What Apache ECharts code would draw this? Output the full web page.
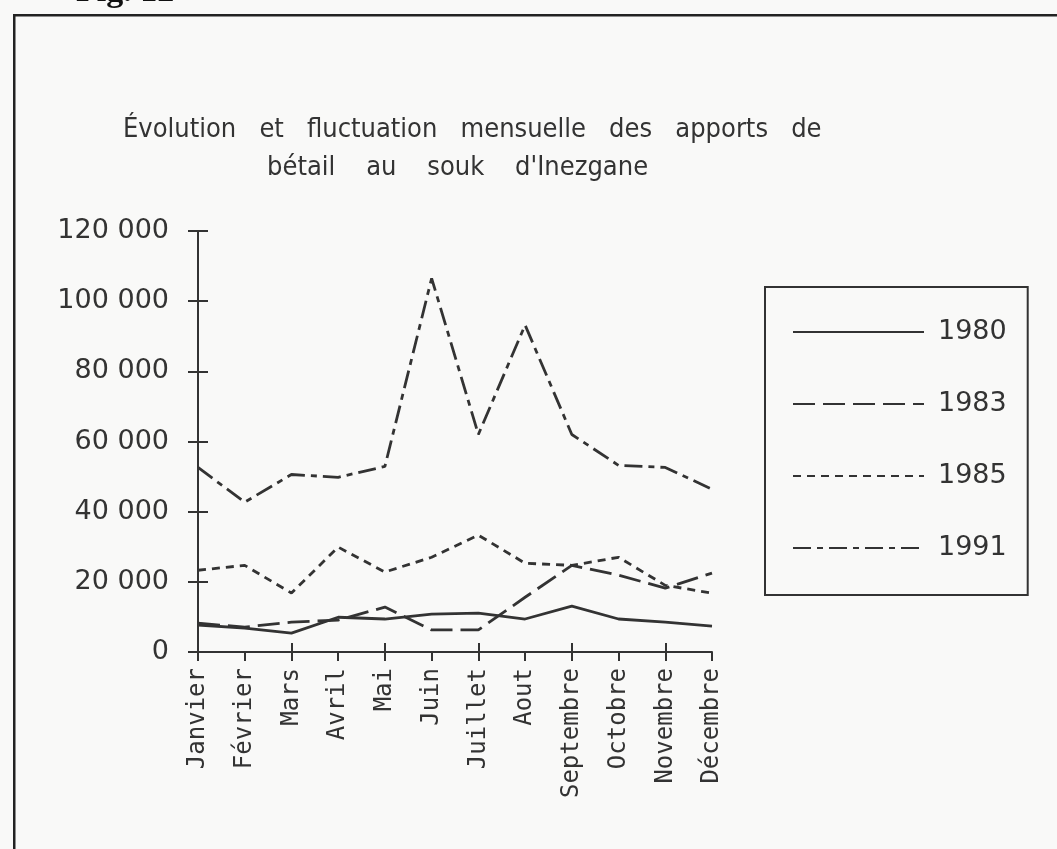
<!DOCTYPE html>
<html>
<head>
<meta charset="utf-8">
<script src="https://cdn.jsdelivr.net/npm/echarts@6/dist/echarts.min.js"></script>
<style>
  html, body { margin: 0; padding: 0; background: #f9f9f8; }
  #chart { width: 1057px; height: 849px; }
</style>
</head>
<body>
<div id="chart"></div>
<script>
const months = ['Janvier', 'Février', 'Mars', 'Avril', 'Mai', 'Juin', 'Juillet', 'Aout', 'Septembre', 'Octobre', 'Novembre', 'Décembre'];
const years = ['1980', '1983', '1985', '1991'];
const v1980 = [7700, 6800, 5400, 9900, 9400, 10800, 11100, 9400, 13100, 9400, 8500, 7400];
const v1983 = [8200, 7100, 8500, 9100, 12800, 6300, 6300, 15600, 24700, 21900, 18200, 22500];
const v1985 = [23300, 24700, 16800, 29900, 22800, 27000, 33300, 25300, 24700, 27000, 19000, 16800];
const v1991 = [52600, 42700, 50600, 49800, 52900, 106500, 62000, 93200, 62000, 53200, 52600, 46400];
const yTickLabels = ['0', '20 000', '40 000', '60 000', '80 000', '100 000', '120 000'];

const ink = '#333333';
const dashes = {
  '1980': 'solid',
  '1983': [22, 8],
  '1985': [8, 6],
  '1991': [18, 6, 6, 6]
};
const valuesByYear = { '1980': v1980, '1983': v1983, '1985': v1985, '1991': v1991 };

const chart = echarts.init(document.getElementById('chart'));

const tickAxisCommon = {
  axisLine: { show: false },
  axisLabel: { show: false },
  splitLine: { show: false }
};
const titleFont = { fontFamily: "'DejaVu Sans Condensed', 'DejaVu Sans', sans-serif", fontWeight: 'normal', fontSize: 27, color: ink };

chart.setOption({
  backgroundColor: '#f9f9f8',
  animation: false,
  title: [
    {
      text: 'Évolution   et   fluctuation   mensuelle   des   apports   de',
      left: 118, top: 111,
      textStyle: titleFont
    },
    {
      text: 'bétail    au    souk    d\'Inezgane',
      left: 262, top: 149,
      textStyle: titleFont
    }
  ],
  graphic: [
    {
      type: 'rect', left: 13, top: 14, silent: true,
      shape: { x: 0, y: 0, width: 1080, height: 870 },
      style: { fill: 'transparent', stroke: '#222', lineWidth: 2.5 }
    },
    {
      type: 'text', left: 76, top: -25, silent: true,
      style: { text: 'Fig. 12', font: 'bold 34px "Liberation Serif", serif', fill: '#111' }
    }
  ],
  legend: {
    orient: 'vertical',
    left: 765, top: 287,
    padding: [30, 21, 32, 27],
    itemWidth: 131, itemHeight: 2, itemGap: 42,
    borderColor: ink, borderWidth: 2,
    data: years,
    itemStyle: { opacity: 0 },
    textStyle: { fontFamily: "'DejaVu Sans', sans-serif", fontSize: 27, color: ink, lineHeight: 30, padding: [0, 0, 0, 9] }
  },
  grid: { left: 198, right: 345, top: 231, bottom: 197 },
  xAxis: [
    {
      type: 'category', data: months, boundaryGap: false, position: 'bottom',
      axisLine: { lineStyle: { color: ink, width: 2 } },
      axisTick: { length: 9, lineStyle: { color: ink, width: 2 } },
      axisLabel: { rotate: 90, margin: 16, color: ink, fontFamily: "'DejaVu Sans Mono', monospace", fontSize: 24 },
      splitLine: { show: false }
    },
    Object.assign({
      type: 'category', data: months, boundaryGap: false, position: 'bottom',
      axisTick: { inside: true, length: 9, lineStyle: { color: ink, width: 2 } }
    }, tickAxisCommon)
  ],
  yAxis: [
    {
      type: 'value', min: 0, max: 120000, interval: 20000, position: 'left',
      axisLine: { show: true, lineStyle: { color: ink, width: 2 } },
      axisTick: { show: true, length: 10, lineStyle: { color: ink, width: 2 } },
      axisLabel: { margin: 29, color: ink, fontFamily: "'DejaVu Sans', sans-serif", fontSize: 27,
        formatter: v => yTickLabels[Math.round(v / 20000)] },
      splitLine: { show: false }
    },
    Object.assign({
      type: 'value', min: 0, max: 120000, interval: 20000, position: 'left',
      axisTick: { show: true, inside: true, length: 10, lineStyle: { color: ink, width: 2 } }
    }, tickAxisCommon)
  ],
  series: years.map(y => ({
    name: y,
    type: 'line',
    data: valuesByYear[y],
    xAxisIndex: 0, yAxisIndex: 0,
    symbol: 'none',
    color: ink,
    lineStyle: { color: ink, width: 2.8, type: dashes[y] }
  }))
});
</script>
</body>
</html>
